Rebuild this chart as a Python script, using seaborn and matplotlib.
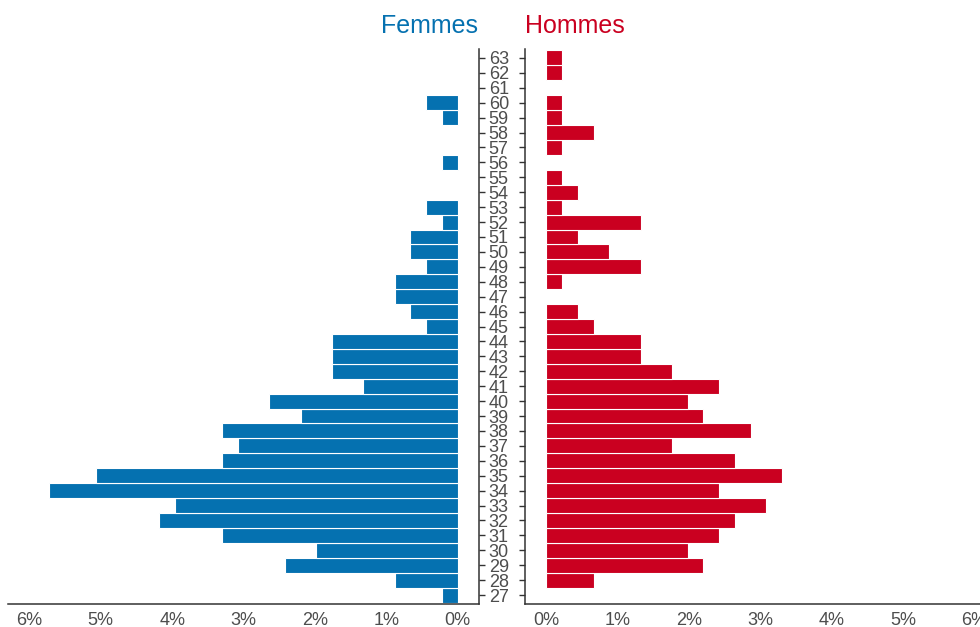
import matplotlib
matplotlib.use('Agg')
import matplotlib.pyplot as plt
import seaborn as sns
from matplotlib.ticker import FuncFormatter

# Pyramide des âges : part (%) de l'effectif total par âge et par sexe
ages = list(range(27, 64))
femmes = [0.22, 0.88, 2.42, 1.98, 3.30, 4.19, 3.96, 5.73, 5.07, 3.30,
          3.08, 3.30, 2.20, 2.64, 1.32, 1.76, 1.76, 1.76, 0.44, 0.66,
          0.88, 0.88, 0.44, 0.66, 0.66, 0.22, 0.44, 0.00, 0.00, 0.22,
          0.00, 0.00, 0.22, 0.44, 0.00, 0.00, 0.00]
hommes = [0.00, 0.66, 2.20, 1.98, 2.42, 2.64, 3.08, 2.42, 3.30, 2.64,
          1.76, 2.86, 2.20, 1.98, 2.42, 1.76, 1.32, 1.32, 0.66, 0.44,
          0.00, 0.22, 1.32, 0.88, 0.44, 1.32, 0.22, 0.44, 0.22, 0.00,
          0.22, 0.66, 0.22, 0.22, 0.00, 0.22, 0.22]
x_ticks = [0, 1, 2, 3, 4, 5, 6]

bleu = '#0571B0'
rouge = '#CA0020'
gris = '#4D4D4D'

sns.set_style('white')
plt.rcParams['font.family'] = ['Liberation Sans', 'DejaVu Sans']

fig = plt.figure(figsize=(9.8, 6.27), dpi=100)
ax1 = fig.add_axes([8 / 980, 1 - 604 / 627, (479 - 8) / 980, (604 - 49) / 627])
ax2 = fig.add_axes([525 / 980, 1 - 604 / 627, (996 - 525) / 980, (604 - 49) / 627])

sns.barplot(x=femmes, y=ages, orient='h', native_scale=True, color=bleu,
            saturation=1, width=1, edgecolor='white', linewidth=0.8,
            errorbar=None, ax=ax1)
sns.barplot(x=hommes, y=ages, orient='h', native_scale=True, color=rouge,
            saturation=1, width=1, edgecolor='white', linewidth=0.8,
            errorbar=None, ax=ax2)

pct = FuncFormatter(lambda v, _: f'{v:.0f}%')
for ax in (ax1, ax2):
    ax.set_ylim(26.4, 63.6)
    ax.set_yticks(ages)
    ax.set_xticks(x_ticks)
    ax.xaxis.set_major_formatter(pct)
    ax.set_xlabel('')
    ax.set_ylabel('')
    ax.tick_params(axis='both', direction='out', length=4, width=1,
                   color='#333333', labelcolor=gris, labelsize=13, pad=2)
    ax.grid(False)
    for s in ax.spines.values():
        s.set_color('#333333')
        s.set_linewidth(1.1)

ax1.set_xlim(6.3, -0.3)
ax2.set_xlim(-0.3, 6.3)

ax1.spines['top'].set_visible(False)
ax1.spines['left'].set_visible(False)
ax1.yaxis.tick_right()
ax1.tick_params(axis='y', left=False, right=True, labelright=True,
                labelleft=False, pad=3)

ax2.spines['top'].set_visible(False)
ax2.spines['right'].set_visible(False)
ax2.tick_params(axis='y', left=True, labelleft=False)

fig.text(478 / 980, 1 - 33 / 627, 'Femmes', color=bleu, fontsize=18,
         ha='right', va='baseline')
fig.text(525 / 980, 1 - 33 / 627, 'Hommes', color=rouge, fontsize=18,
         ha='left', va='baseline')

fig.savefig('out.png', dpi=100)
